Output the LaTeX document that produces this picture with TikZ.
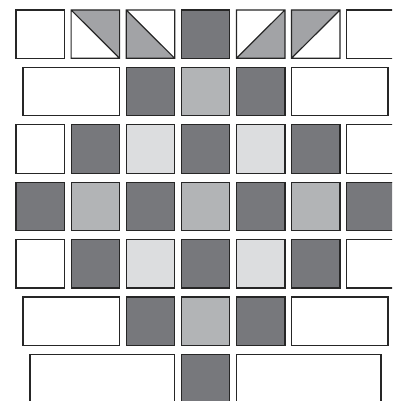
\documentclass[tikz,border=0pt]{standalone}
\usepackage{tikz}
\definecolor{qdark}{HTML}{77787C}
\definecolor{qmid}{HTML}{B2B4B6}
\definecolor{qlight}{HTML}{DCDDDF}
\definecolor{qtri}{HTML}{A2A3A6}
\tikzset{blk/.style={draw=black!85, line width=1.2pt}}
% one square of the block: column, row, colour
\newcommand{\quiltsq}[3]{\draw[blk, fill=#3] ({16+55.1*#1},{10+57.4*#2}) rectangle ++(48.5,48.3);}
\begin{document}
\begin{tikzpicture}[x=1pt, y=-1pt, line join=miter]
\useasboundingbox (0,0) rectangle (392,401);
\clip (0,0) rectangle (392,401);

% 1. Hàng trên cùng: ô trơn và ô tam giác
\quiltsq{0}{0}{white}
\quiltsq{3}{0}{qdark}
\quiltsq{6}{0}{white}
\fill[qtri] (71.1,10) -- (119.6,10) -- (119.6,58.3) -- cycle;
\draw[blk] (71.1,10) rectangle (119.6,58.3) (71.1,10) -- (119.6,58.3);
\fill[qtri] (126.2,10) -- (126.2,58.3) -- (174.7,58.3) -- cycle;
\draw[blk] (126.2,10) rectangle (174.7,58.3) (126.2,10) -- (174.7,58.3);
\fill[qtri] (236.4,58.3) -- (284.9,58.3) -- (284.9,10) -- cycle;
\draw[blk] (236.4,10) rectangle (284.9,58.3) (236.4,58.3) -- (284.9,10);
\fill[qtri] (291.5,10) -- (340,10) -- (291.5,58.3) -- cycle;
\draw[blk] (291.5,10) rectangle (340,58.3) (291.5,58.3) -- (340,10);

% 2. Hàng thứ hai
\draw[blk, fill=white] (23,67.4) rectangle (119.6,115.7);
\quiltsq{2}{1}{qdark}
\quiltsq{3}{1}{qmid}
\quiltsq{4}{1}{qdark}
\draw[blk, fill=white] (291.5,67.4) rectangle (388,115.7);

% 3. Ba hàng giữa
\foreach \c [count=\i from 0] in {white,qdark,qlight,qdark,qlight,qdark,white} {
  \quiltsq{\i}{2}{\c}
  \quiltsq{\i}{4}{\c}
}
\foreach \c [count=\i from 0] in {qdark,qmid,qdark,qmid,qdark,qmid,qdark} {
  \quiltsq{\i}{3}{\c}
}

% 4. Hàng thứ sáu
\draw[blk, fill=white] (23,297) rectangle (119.6,345.3);
\quiltsq{2}{5}{qdark}
\quiltsq{3}{5}{qmid}
\quiltsq{4}{5}{qdark}
\draw[blk, fill=white] (291.5,297) rectangle (388,345.3);

% 5. Hàng dưới cùng
\draw[blk, fill=white] (30,354.4) rectangle (174.7,410);
\quiltsq{3}{6}{qdark}
\draw[blk, fill=white] (236.4,354.4) rectangle (381,410);
\end{tikzpicture}
\end{document}
